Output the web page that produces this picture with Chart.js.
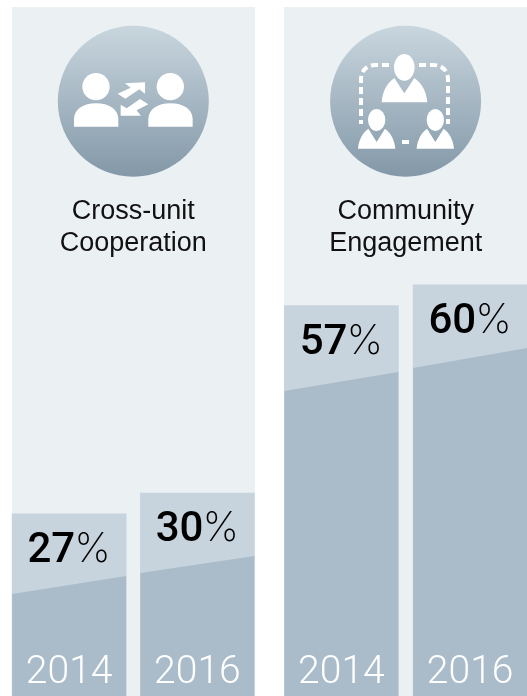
<!DOCTYPE html>
<html>
<head>
<meta charset="utf-8">
<title>Cross-unit Cooperation and Community Engagement</title>
<script src="https://cdn.jsdelivr.net/npm/chart.js@4"></script>
<style>
  html, body { margin: 0; padding: 0; background: #fff; overflow: hidden; }
  #page { position: relative; width: 527px; height: 696px; overflow: hidden; }
  .panel { position: absolute; top: 7px; width: 243px; height: 689px; background: #ebf0f3; }
  canvas { position: absolute; top: 0; }
  svg { position: absolute; left: 0; top: 0; }
</style>
</head>
<body>
<div id="page">
  <div class="panel" style="left:12px"></div>
  <div class="panel" style="left:284px"></div>

  <svg width="527" height="696">
    <defs>
      <linearGradient id="disc" x1="0" y1="0" x2="0" y2="1">
        <stop offset="0" stop-color="#c9d6de"/>
        <stop offset="1" stop-color="#8398a8"/>
      </linearGradient>
    </defs>
    <circle cx="133.3" cy="101.3" r="75.5" fill="url(#disc)"/>
    <circle cx="405.6" cy="101.3" r="75.5" fill="url(#disc)"/>

    <!-- two people swapping arrows -->
    <g transform="scale(0.3333)" fill="#fff">
      <circle cx="288" cy="260" r="41"/>
      <circle cx="511" cy="260" r="41"/>
      <path d="M222 380V358C222 328 250 310 288 310C327 310 355 328 355 358V380Z"/>
      <path d="M445 380V358C445 328 473 310 511 310C550 310 578 328 578 358V380Z"/>
      <path d="M353 281L392 263L375 250L435 247V281L418 268L376 296Z"/>
      <path d="M445 313L410 331L423 347H362V314L380 325L420 297Z"/>
    </g>

    <!-- three people joined by a dashed loop -->
    <g transform="translate(265 0) scale(0.3333)">
      <g fill="#fff">
        <ellipse cx="418" cy="202" rx="31" ry="40"/>
        <path d="M350 307C352 280 362 252 388 234L418 280L448 234C474 252 485 280 487 307Z"/>
        <ellipse cx="335" cy="360" rx="26" ry="33"/>
        <path d="M279 446C281 424 290 400 310 386L335 426L360 386C380 400 389 424 391 446Z"/>
        <ellipse cx="511" cy="360" rx="26" ry="33"/>
        <path d="M455 446C457 424 466 400 486 386L511 426L536 386C556 400 565 424 567 446Z"/>
        <rect x="411" y="420" width="21" height="12"/>
      </g>
      <g fill="none" stroke="#fff" stroke-width="12" stroke-dasharray="21 12">
        <path d="M372 195H330C305 195 288 212 288 240V372"/>
        <path d="M462 195H505C532 195 549 212 549 240V372"/>
      </g>
    </g>
  </svg>

  <canvas id="cooperationChart" width="262" height="696" style="left:0"></canvas>
  <canvas id="engagementChart" width="259" height="696" style="left:276px"></canvas>
</div>

<script>
const years = ["2014", "2016"];

const cooperationTitle = ["Cross-unit", "Cooperation"];
const cooperationValues = [27, 30];
const cooperationBandStart = [15.46, 18.49];
const cooperationBandEnd = [18.06, 20.94];

const engagementTitle = ["Community", "Engagement"];
const engagementValues = [57, 60];
const engagementBandStart = [44.7, 48.02];
const engagementBandEnd = [47.44, 50.9];

// slanted darker block inside each bar, the percentage above it and the year below
const barExtras = {
  id: "barExtras",
  afterDatasetsDraw(chart, args, opts) {
    const ctx = chart.ctx;
    const y = chart.scales.y;
    const bars = chart.getDatasetMeta(0).data;
    ctx.save();
    bars.forEach((bar, i) => {
      const left = bar.x - bar.width / 2;
      const right = bar.x + bar.width / 2;

      ctx.fillStyle = "#aabcca";
      ctx.beginPath();
      ctx.moveTo(left, y.getPixelForValue(opts.bandStart[i]));
      ctx.lineTo(right, y.getPixelForValue(opts.bandEnd[i]));
      ctx.lineTo(right, y.bottom);
      ctx.lineTo(left, y.bottom);
      ctx.closePath();
      ctx.fill();

      const number = String(chart.data.datasets[0].data[i]);
      const numberFont = "500 42px Roboto";
      const signFont = "200 41px Inter";
      ctx.font = numberFont;
      const numberWidth = ctx.measureText(number).width;
      ctx.font = signFont;
      const signWidth = ctx.measureText("%").width;
      const startX = bar.x - (numberWidth + signWidth - 1) / 2;
      const baseline = bar.y + 48;

      ctx.fillStyle = "#000";
      ctx.textBaseline = "alphabetic";
      ctx.textAlign = "left";
      ctx.font = numberFont;
      ctx.fillText(number, startX, baseline);
      ctx.font = signFont;
      ctx.fillText("%", startX + numberWidth - 1, baseline);

      ctx.fillStyle = "#fff";
      ctx.textAlign = "center";
      ctx.font = "300 39px Roboto";
      ctx.fillText(chart.scales.x.getLabelForValue(i), bar.x, y.bottom - 13);
    });
    ctx.restore();
  },
};

const makeChart = (id, title, values, bandStart, bandEnd, padLeft) => {
  const config = {
    type: "bar",
    data: {
      labels: years,
      datasets: [
        {
          data: values,
          backgroundColor: "#c7d4dd",
          borderWidth: 0,
          barThickness: 114,
        },
      ],
    },
    options: {
      responsive: false,
      animation: false,
      devicePixelRatio: 1,
      layout: { padding: { left: padLeft, right: 0.5, top: 0, bottom: 0 } },
      plugins: {
        legend: { display: false },
        tooltip: { enabled: false },
        title: {
          display: true,
          text: title,
          color: "#111",
          font: { family: "'Liberation Sans'", size: 27, weight: "normal", lineHeight: 1.185 },
          padding: { top: 196, bottom: 4 },
        },
        barExtras: { bandStart: bandStart, bandEnd: bandEnd },
      },
      scales: {
        x: { display: false },
        y: { display: false, min: 0.77, max: 63 },
      },
    },
    plugins: [barExtras],
  };
  return new Chart(document.getElementById(id), config);
};

makeChart("cooperationChart", cooperationTitle, cooperationValues, cooperationBandStart, cooperationBandEnd, 5);
makeChart("engagementChart", engagementTitle, engagementValues, engagementBandStart, engagementBandEnd, 1);
</script>
</body>
</html>
